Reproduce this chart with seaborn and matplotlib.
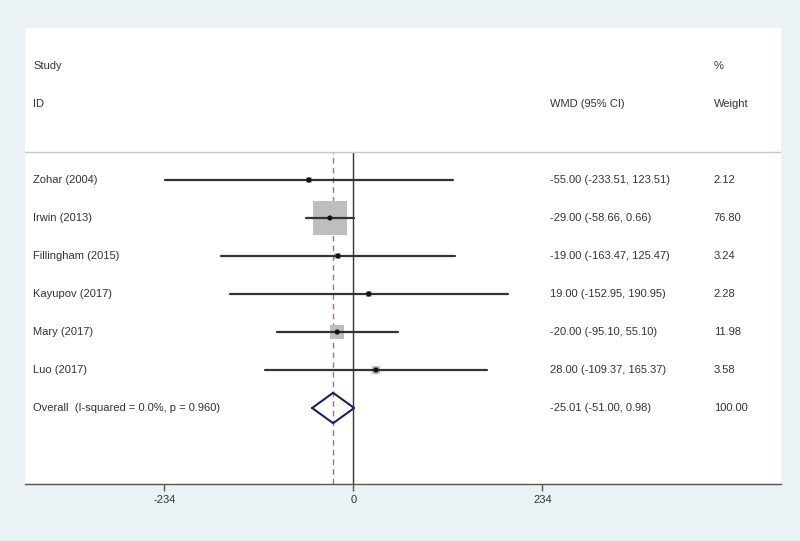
import numpy as np
import pandas as pd
import matplotlib.pyplot as plt
import matplotlib.transforms as mtransforms
import seaborn as sns

studies = ["Zohar (2004)", "Irwin (2013)", "Fillingham (2015)", "Kayupov (2017)",
           "Mary (2017)", "Luo (2017)"]
wmd = [-55.00, -29.00, -19.00, 19.00, -20.00, 28.00]
lower = [-233.51, -58.66, -163.47, -152.95, -95.10, -109.37]
upper = [123.51, 0.66, 125.47, 190.95, 55.10, 165.37]
weight = [2.12, 76.80, 3.24, 2.28, 11.98, 3.58]
overall_label = "Overall  (I-squared = 0.0%, p = 0.960)"
overall = [-25.01, -51.00, 0.98]
tick_vals = [-234, 0, 234]

df = pd.DataFrame({"study": studies, "wmd": wmd, "lo": lower, "hi": upper, "w": weight})
df["row"] = np.arange(len(df), 0, -1) + 2  # rows 8..3

sns.set_style("white")
plt.rcParams["font.family"] = ["Liberation Sans", "DejaVu Sans"]

bg = "#EAF2F5"
fig = plt.figure(figsize=(8, 5.41), dpi=100, facecolor=bg)
ax = fig.add_axes([25 / 800, 57 / 541, 756 / 800, 456 / 541])
ax.set_facecolor("white")
ax.set_xlim(-406.5, 529.5)
ax.set_ylim(0, 12)

# weight squares (area ~ weight)
max_side = 34 * 0.72
df["s"] = max_side ** 2 * df["w"] / df["w"].max()
ax.scatter(df["wmd"], df["row"], s=df["s"], marker="s", color="#BEBEBE", linewidths=0, zorder=2)

# reference lines
sep = 8.74
ax.plot([0, 0], [0, sep], color="#333333", lw=1, zorder=1)
ax.plot([overall[0], overall[0]], [0, sep], color="#B56B6B", lw=1, ls=(0, (4, 3)), zorder=1)

# confidence intervals
for _, r in df.iterrows():
    ax.plot([r["lo"], r["hi"]], [r["row"], r["row"]], color="#333333", lw=1.6, zorder=3)
sns.scatterplot(data=df, x="wmd", y="row", ax=ax, color="#111111", s=14,
                edgecolor="none", zorder=4, legend=False)

# overall diamond
dx = [overall[1], overall[0], overall[2], overall[0], overall[1]]
dy = [2, 2.4, 2, 1.6, 2]
ax.plot(dx, dy, color="#1F1F5E", lw=1.5, zorder=4)

# separator
ax.axhline(sep, color="#C8C8C8", lw=1)

# text columns
tr = mtransforms.blended_transform_factory(ax.transAxes, ax.transData)
fs = 8
tc = "#333333"
ax.text(0.0106, 11, "Study", transform=tr, fontsize=fs, color=tc, va="center")
ax.text(0.0106, 10, "ID", transform=tr, fontsize=fs, color=tc, va="center")
ax.text(0.694, 10, "WMD (95% CI)", transform=tr, fontsize=fs, color=tc, va="center")
ax.text(0.911, 11, "%", transform=tr, fontsize=fs, color=tc, va="center")
ax.text(0.911, 10, "Weight", transform=tr, fontsize=fs, color=tc, va="center")
for _, r in df.iterrows():
    ax.text(0.0106, r["row"], r["study"], transform=tr, fontsize=fs, color=tc, va="center")
    ax.text(0.694, r["row"], f"{r['wmd']:.2f} ({r['lo']:.2f}, {r['hi']:.2f})",
            transform=tr, fontsize=fs, color=tc, va="center")
    ax.text(0.911, r["row"], f"{r['w']:.2f}", transform=tr, fontsize=fs, color=tc, va="center")
ax.text(0.0106, 2, overall_label, transform=tr, fontsize=fs, color=tc, va="center")
ax.text(0.694, 2, f"{overall[0]:.2f} ({overall[1]:.2f}, {overall[2]:.2f})",
        transform=tr, fontsize=fs, color=tc, va="center")
ax.text(0.911, 2, "100.00", transform=tr, fontsize=fs, color=tc, va="center")

# axes styling
for side in ["top", "right", "left"]:
    ax.spines[side].set_visible(False)
ax.spines["bottom"].set_color("#555555")
ax.spines["bottom"].set_linewidth(1)
ax.set_xticks(tick_vals)
ax.set_xticklabels([str(t) for t in tick_vals])
ax.tick_params(axis="x", direction="out", length=5, width=1, color="#555555",
               labelsize=fs, labelcolor=tc, pad=3, bottom=True)
ax.set_yticks([])
ax.set_xlabel("")
ax.set_ylabel("")

fig.savefig("out.png", dpi=100, facecolor=bg)
